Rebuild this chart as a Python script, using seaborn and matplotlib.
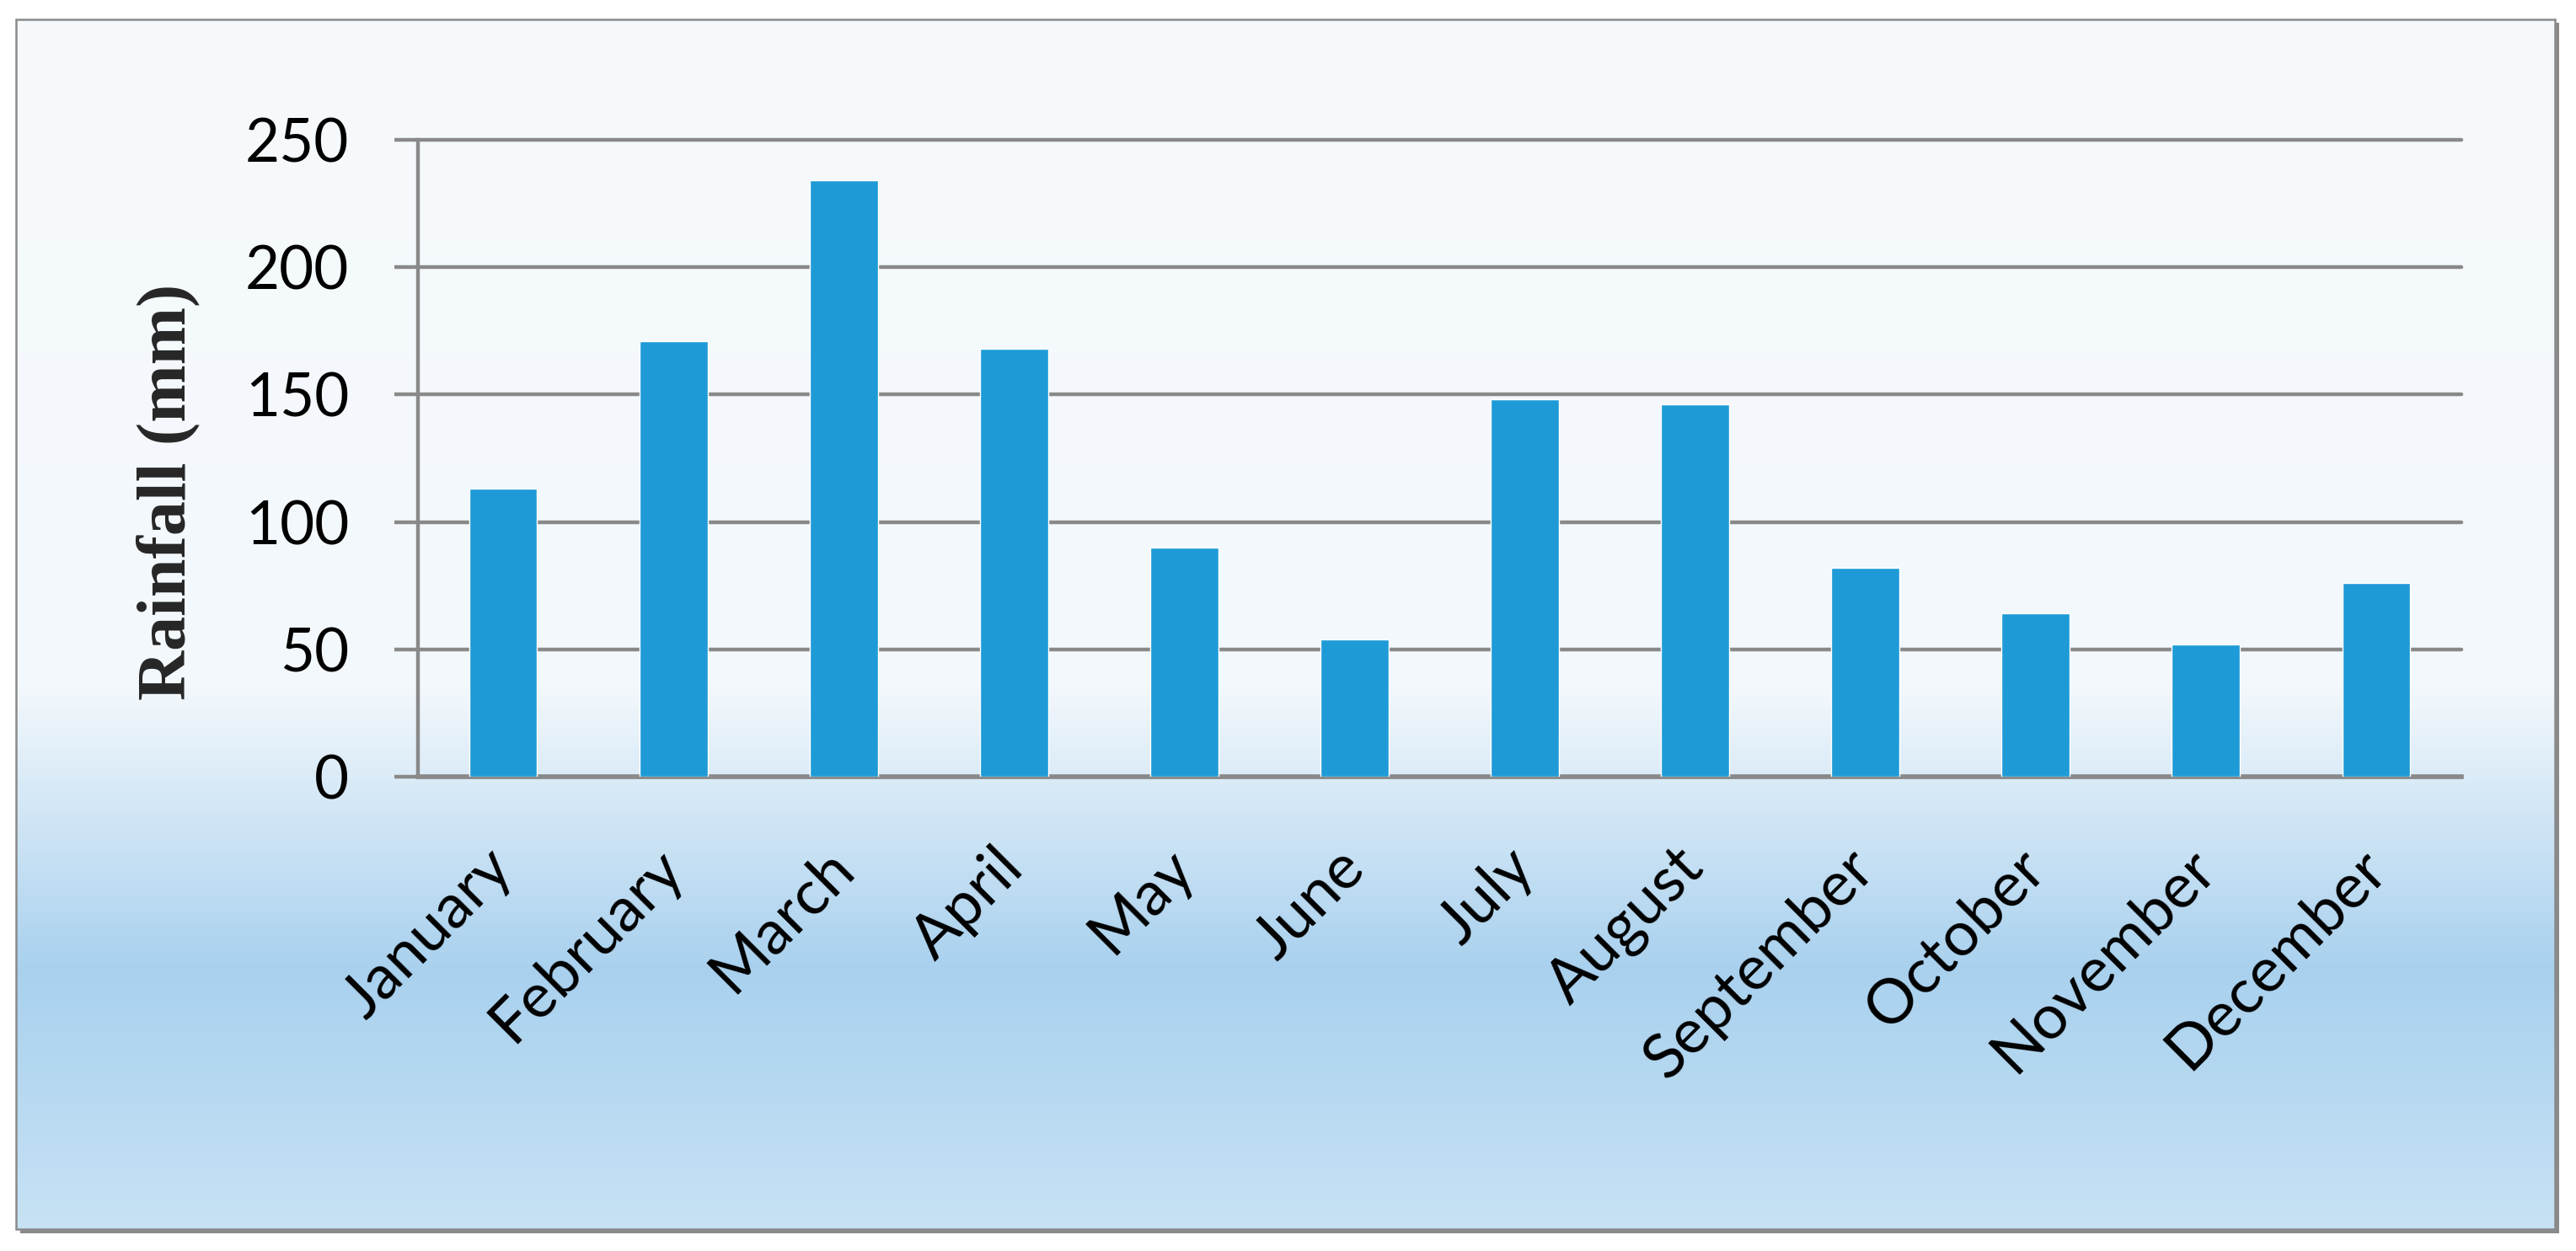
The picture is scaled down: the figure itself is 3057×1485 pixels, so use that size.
import numpy as np
import pandas as pd
import matplotlib
matplotlib.use("Agg")
import matplotlib.pyplot as plt
import seaborn as sns
from matplotlib.patches import Rectangle
from matplotlib.colors import to_rgb

# ---- data ----
months = ["January", "February", "March", "April", "May", "June",
          "July", "August", "September", "October", "November", "December"]
rainfall = [113, 171, 234, 168, 90, 54, 148, 146, 82, 64, 52, 76]
y_ticks = [0, 50, 100, 150, 200, 250]
y_label = "Rainfall (mm)"

sns.set_style("white")
plt.rcParams['font.family'] = ['Lato', 'DejaVu Sans']

W, H = 3057, 1485
fig = plt.figure(figsize=(W / 100, H / 100), dpi=100, facecolor='white')

# ---- background frame with gradient ----
bg = fig.add_axes([0, 0, 1, 1], zorder=0)
bg.set_xlim(0, W)
bg.set_ylim(H, 0)
bg.axis('off')
bg.add_patch(Rectangle((24, 27), 3013, 1437, facecolor='#8A8A8A', edgecolor='none'))
x0, x1, y0, y1 = 19, 3032, 23, 1459
stops_y = [y0, 815, 1150, y1]
stops_c = [to_rgb('#F6FAFD'), to_rgb('#F3F8FC'), to_rgb('#A9D1EE'), to_rgb('#C7E2F4')]
rows = np.arange(y0, y1 + 1)
grad = np.stack([np.interp(rows, stops_y, [c[i] for c in stops_c]) for i in range(3)], axis=-1)
grad = grad[:, None, :]
bg.imshow(grad, extent=(x0, x1, y1, y0), aspect='auto', interpolation='bilinear', zorder=1)
bg.add_patch(Rectangle((x0, y0), x1 - x0, y1 - y0, facecolor='none',
                       edgecolor='#8A8A8A', lw=1.8, zorder=2))

# ---- main chart ----
ax = fig.add_axes([496 / W, 1 - 922 / H, (2921 - 496) / W, (922 - 166) / H], zorder=1)
ax.patch.set_alpha(0)
df = pd.DataFrame({'Month': months, 'Rainfall': rainfall})
sns.barplot(data=df, x='Month', y='Rainfall', color='#1E9BD7', saturation=1,
            width=0.4, ax=ax, zorder=3)

ax.set_xlim(-0.5, 11.5)
ax.set_ylim(0, 250)
ax.set_yticks(y_ticks)
ax.set_axisbelow(True)
grid_c = '#898989'
ax.grid(axis='y', color=grid_c, lw=3.2)
for gl in ax.get_ygridlines():
    gl.set_clip_on(False)
ax.grid(axis='x', visible=False)

ax.tick_params(axis='y', left=True, length=20, width=3.2, color=grid_c,
               pad=39, labelsize=51, labelcolor='black')
ax.tick_params(axis='x', bottom=False, length=0, pad=70, labelsize=53, labelcolor='black')
for lbl in ax.get_xticklabels():
    lbl.set_rotation(45)
    lbl.set_ha('right')
    lbl.set_va('center')
    lbl.set_rotation_mode('anchor')

for s in ['top', 'right']:
    ax.spines[s].set_visible(False)
ax.spines['left'].set_color(grid_c)
ax.spines['left'].set_linewidth(3.2)
ax.spines['bottom'].set_color(grid_c)
ax.spines['bottom'].set_linewidth(4)
ax.set_xlabel('')
ax.set_ylabel('')

fig.text(200 / W, 1 - 584 / H, y_label, rotation=90, ha='center', va='center',
         fontsize=59, fontweight='bold', family=['Liberation Serif', 'DejaVu Serif'])

fig.savefig('out.png', dpi=100, facecolor='white')
